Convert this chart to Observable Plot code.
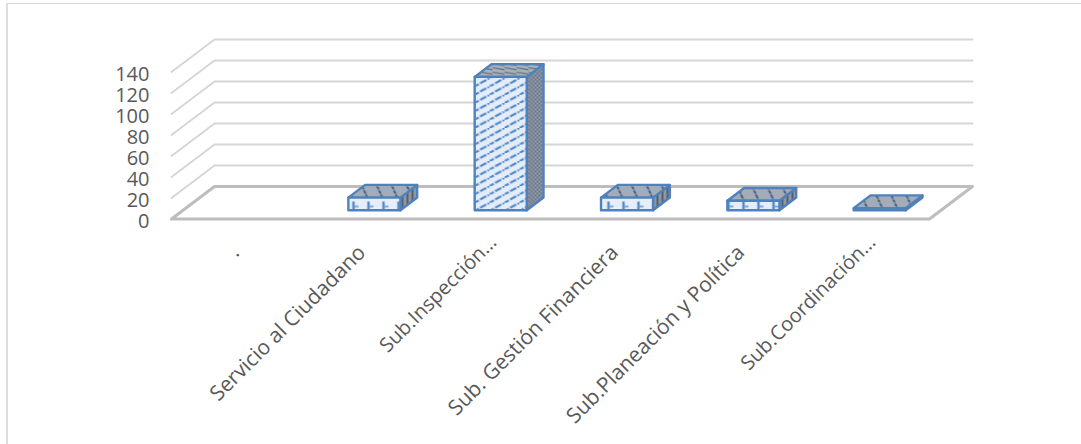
<!DOCTYPE html>
<html>
<head>
<meta charset="utf-8">
<script src="https://cdn.jsdelivr.net/npm/d3@7"></script>
<script src="https://cdn.jsdelivr.net/npm/@observablehq/plot@0.6"></script>
<style>
html,body{margin:0;padding:0;background:#fff;overflow:hidden}
#frame{position:absolute;left:6px;top:3px;right:0;bottom:0;border-left:2px solid #dedede;border-top:1px solid #d8d8d8}
#chart{position:absolute;left:0;top:0}
</style>
</head>
<body>
<div id="frame"></div>
<div id="chart"></div>
<script>
const categories = [".", "Servicio al Ciudadano", "Sub.Inspección…", "Sub. Gestión Financiera", "Sub.Planeación y Política", "Sub.Coordinación…"];
const values = [null, 12, 127, 12, 9, 2];
const yTicks = [0, 20, 40, 60, 80, 100, 120, 140];

// Oblique projection: one unit of depth moves a point by this much in data units.
const depthX = 0.3404, depthY = 31;
const project = (u, v, d) => ({u: u + d * depthX, v: v + d * depthY});
const bandLeft = 0.308, bandWidth = 0.412, depthFront = 0.27, depthBack = 0.66;

const faces = [];
categories.forEach((c, i) => {
  const value = values[i];
  if (value == null) return;
  const x1 = i + bandLeft, x2 = x1 + bandWidth;
  const small = value < 20;
  const add = (kind, pts) => pts.forEach(([u, v, d]) => faces.push({id: c + kind, kind, small, ...project(u, v, d)}));
  add("side", [[x2, 0, depthFront], [x2, 0, depthBack], [x2, value, depthBack], [x2, value, depthFront]]);
  add("top", [[x1, value, depthFront], [x2, value, depthFront], [x2, value, depthBack], [x1, value, depthBack]]);
  add("front", [[x1, 0, depthFront], [x2, 0, depthFront], [x2, value, depthFront], [x1, value, depthFront]]);
});

const gridLines = yTicks.filter(t => t > 0).flatMap(t =>
  [[0, t, 0], [0, t, 1], [6, t, 1]].map(([u, v, d]) => ({t, ...project(u, v, d)})));
const floor = [[0, 0, 0], [6, 0, 0], [6, 0, 1], [0, 0, 1]].map(([u, v, d]) => project(u, v, d));

const patterns = () => d3.create("svg:defs").html(`
  <pattern id="front" patternUnits="userSpaceOnUse" width="15" height="8.3" x="474" y="3">
    <rect width="15" height="8.3" fill="#e3ecf8"/>
    <path d="M-1.8 9.3L16.8 -1" stroke="#4f86c6" stroke-width="2.1" stroke-dasharray="7 1.5"/>
  </pattern>
  <pattern id="frontSmall" patternUnits="userSpaceOnUse" width="15" height="13" x="347" y="197">
    <rect width="15" height="13" fill="#e6eff9"/>
    <path d="M6 4V13" stroke="#4f86c6" stroke-width="2.4"/>
    <path d="M6 9h5" stroke="#6c9ad0" stroke-width="1.6"/>
  </pattern>
  <pattern id="top" patternUnits="userSpaceOnUse" width="12" height="4.4">
    <rect width="12" height="4.4" fill="#a9b0bb"/>
    <path d="M0 1.2L12 3.4" stroke="#5f7186" stroke-width="1.3"/>
  </pattern>
  <pattern id="topSmall" patternUnits="userSpaceOnUse" width="15" height="13" patternTransform="skewX(25)">
    <rect width="15" height="13" fill="#a4acb8"/>
    <path d="M5 0V13" stroke="#47658a" stroke-width="2.4" stroke-dasharray="3 1"/>
  </pattern>
  <pattern id="side" patternUnits="userSpaceOnUse" width="4" height="4">
    <rect width="4" height="4" fill="#8f97a3"/>
    <path d="M0 1h1.6M2 3h1.6" stroke="#566a82" stroke-width="1.4"/>
  </pattern>
  <pattern id="sideSmall" patternUnits="userSpaceOnUse" width="5" height="6">
    <rect width="5" height="6" fill="#8f97a3"/>
    <path d="M2 0V6" stroke="#4a5a6e" stroke-width="1.8"/>
  </pattern>`).node();

const face = (kind, small, fill) => Plot.line(faces.filter(f => f.kind === kind && f.small === small), {
  x: "u", y: "v", z: "id", curve: "linear-closed", fill,
  stroke: "#4f81bd", strokeWidth: 2.4, strokeLinejoin: "round"
});

const isTruncated = d => d.endsWith("…");
const labelPositions = new Map(categories.map((c, i) => [c, i + 0.5]));
const labelMark = (filter, fontSize, dx, dy) => Plot.text(categories.filter(filter), {
  x: d => labelPositions.get(d), y: () => 0, text: d => d, rotate: -45, textAnchor: "end", lineAnchor: "middle",
  dx, dy, fontSize, fontFamily: "Open Sans", fill: "#595959"
});

const plot = Plot.plot({
  width: 1081, height: 444,
  marginLeft: 171, marginRight: 152, marginTop: 71.5, marginBottom: 225.5,
  x: {domain: [0, 6], axis: null},
  y: {domain: [0, 140], axis: null},
  style: {background: "transparent"},
  marks: [
    patterns,
    Plot.line(gridLines, {x: "u", y: "v", z: "t", stroke: "#d6d6d6", strokeWidth: 2}),
    Plot.line(floor, {x: "u", y: "v", curve: "linear-closed", stroke: "#bdbdbd", strokeWidth: 3, fill: "#fff"}),
    face("side", false, "url(#side)"), face("top", false, "url(#top)"), face("front", false, "url(#front)"),
    face("side", true, "url(#sideSmall)"), face("top", true, "url(#topSmall)"), face("front", true, "url(#frontSmall)"),
    Plot.text(yTicks, {
      x: () => 0, y: d => d, text: d => String(d), textAnchor: "end", dx: -22, dy: 2.5,
      fontSize: 20, fontFamily: "Open Sans", fill: "#595959"
    }),
    labelMark(d => !isTruncated(d), 21, 1, 30),
    labelMark(isTruncated, 20, 6, 20)
  ]
});
document.getElementById("chart").appendChild(plot);
</script>
</body>
</html>
